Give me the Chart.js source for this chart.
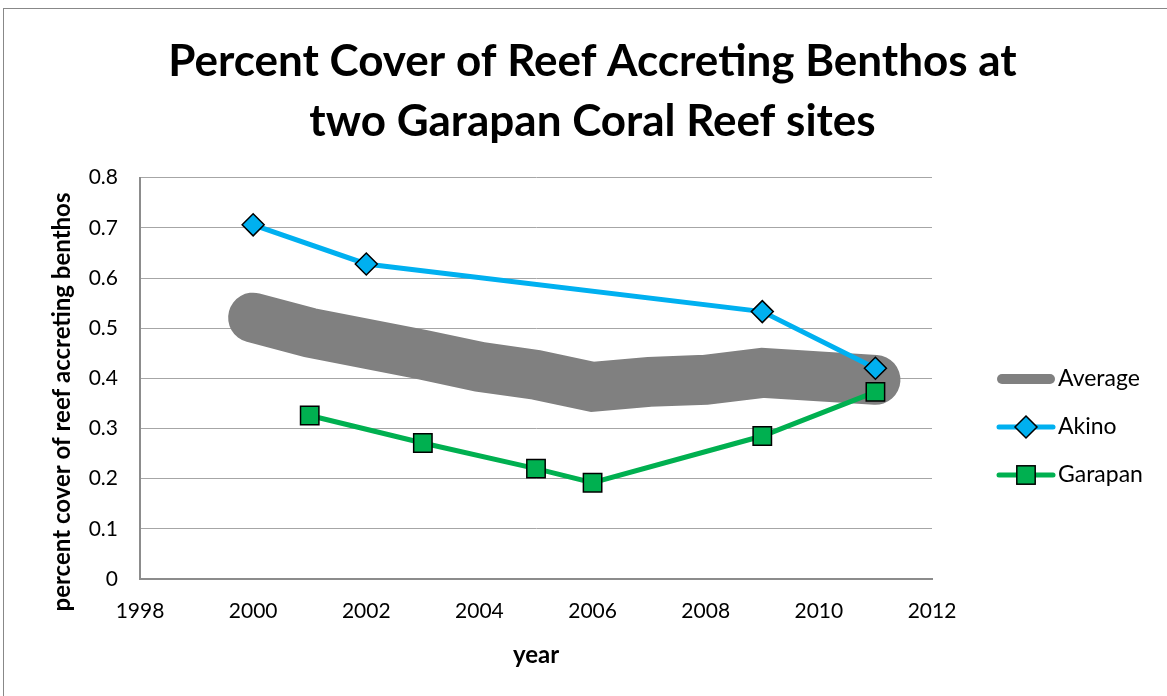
<!DOCTYPE html>
<html>
<head>
<meta charset="utf-8">
<script src="https://cdn.jsdelivr.net/npm/chart.js@4/dist/chart.umd.min.js"></script>
<style>
  html, body { margin: 0; padding: 0; background: #fff; }
  #wrap { width: 1167px; height: 696px; }
</style>
</head>
<body>
<div id="wrap"><canvas id="c" width="1167" height="696"></canvas></div>
<script>
// Chart text
const titleLines = ['Percent Cover of Reef Accreting Benthos at', 'two Garapan Coral Reef sites'];
const xAxisTitle = 'year';
const yAxisTitle = 'percent cover of reef accreting benthos';

// Series
const avgYears = [2000, 2001, 2003, 2004, 2005, 2006, 2007, 2008, 2009, 2011];
const avgValues = [0.521, 0.491, 0.447, 0.423, 0.407, 0.383, 0.393, 0.397, 0.411, 0.397];

const akinoYears = [2000, 2002, 2009, 2011];
const akinoValues = [0.706, 0.628, 0.533, 0.420];

const garapanYears = [2001, 2003, 2005, 2006, 2009, 2011];
const garapanValues = [0.326, 0.271, 0.220, 0.192, 0.285, 0.373];

// Axis ticks
const xTicks = [1998, 2000, 2002, 2004, 2006, 2008, 2010, 2012];
const yTicks = ['0', '0.1', '0.2', '0.3', '0.4', '0.5', '0.6', '0.7', '0.8'];

const FONT = 'Lato, "Open Sans", sans-serif';
const pts = (xs, ys) => xs.map((x, i) => ({ x: x, y: ys[i] }));

// White background and the outer frame
const framePlugin = {
  id: 'frame',
  beforeDraw(chart) {
    const ctx = chart.ctx;
    ctx.save();
    ctx.fillStyle = '#fff';
    ctx.fillRect(0, 0, chart.width, chart.height);
    ctx.strokeStyle = '#888';
    ctx.lineWidth = 1;
    ctx.strokeRect(3.5, 8.5, chart.width + 20, chart.height + 20);
    ctx.restore();
  }
};

// Rotated y-axis title and the legend on the right
const sideTextPlugin = {
  id: 'sideText',
  afterDraw(chart) {
    const ctx = chart.ctx;
    ctx.save();
    ctx.fillStyle = '#000';
    ctx.font = 'bold 24px ' + FONT;
    ctx.textAlign = 'center';
    ctx.textBaseline = 'middle';
    ctx.translate(62, 402);
    ctx.rotate(-Math.PI / 2);
    ctx.fillText(yAxisTitle, 0, 0);
    ctx.restore();

    // legend
    const x0 = 997, x1 = 1055, tx = 1058;
    const rows = [379, 427, 475];
    chart.data.datasets.forEach((ds, i) => {
      const y = rows[i];
      ctx.save();
      ctx.strokeStyle = ds.borderColor;
      ctx.lineCap = 'round';
      ctx.lineWidth = ds.legendLineWidth;
      ctx.beginPath();
      ctx.moveTo(x0 + (ds.legendLineWidth > 6 ? 5 : 2), y);
      ctx.lineTo(x1 - (ds.legendLineWidth > 6 ? 5 : 2), y);
      ctx.stroke();
      const cx = (x0 + x1) / 2;
      if (ds.pointStyle === 'rectRot') {
        const r = ds.pointRadius;
        ctx.beginPath();
        ctx.moveTo(cx, y - r); ctx.lineTo(cx + r, y); ctx.lineTo(cx, y + r); ctx.lineTo(cx - r, y); ctx.closePath();
        ctx.fillStyle = ds.pointBackgroundColor; ctx.fill();
        ctx.lineWidth = ds.pointBorderWidth; ctx.strokeStyle = '#000'; ctx.stroke();
      } else if (ds.pointStyle === 'rect') {
        const h = ds.pointRadius * Math.SQRT1_2;
        ctx.fillStyle = ds.pointBackgroundColor;
        ctx.fillRect(cx - h, y - h, 2 * h, 2 * h);
        ctx.lineWidth = ds.pointBorderWidth; ctx.strokeStyle = '#000';
        ctx.strokeRect(cx - h, y - h, 2 * h, 2 * h);
      }
      ctx.fillStyle = '#000';
      ctx.font = '23px ' + FONT;
      ctx.textAlign = 'left';
      ctx.textBaseline = 'middle';
      ctx.fillText(ds.label, tx, y);
      ctx.restore();
    });
  }
};

new Chart(document.getElementById('c'), {
  type: 'line',
  data: {
    datasets: [
      {
        label: 'Average',
        data: pts(avgYears, avgValues),
        borderColor: '#808080',
        backgroundColor: '#808080',
        borderWidth: 50,
        borderCapStyle: 'round',
        borderJoinStyle: 'miter',
        pointRadius: 0,
        pointStyle: false,
        legendLineWidth: 10,
        order: 3
      },
      {
        label: 'Akino',
        data: pts(akinoYears, akinoValues),
        borderColor: '#00B0F0',
        borderWidth: 5,
        pointStyle: 'rectRot',
        pointRadius: 11,
        pointBackgroundColor: '#00B0F0',
        pointBorderColor: '#000',
        pointBorderWidth: 1.5,
        legendLineWidth: 5,
        order: 2
      },
      {
        label: 'Garapan',
        data: pts(garapanYears, garapanValues),
        borderColor: '#00B050',
        borderWidth: 5,
        pointStyle: 'rect',
        pointRadius: 13,
        pointBackgroundColor: '#00B050',
        pointBorderColor: '#000',
        pointBorderWidth: 1.5,
        legendLineWidth: 5,
        order: 1
      }
    ]
  },
  options: {
    responsive: false,
    animation: false,
    devicePixelRatio: 1,
    layout: { padding: { left: 18, right: 0, top: 0, bottom: 0 } },
    plugins: {
      legend: { display: false },
      tooltip: { enabled: false },
      title: {
        display: true,
        text: titleLines,
        color: '#000',
        font: { family: FONT, size: 44, weight: 'bold', lineHeight: 1.36 },
        padding: { top: 32, bottom: 26 }
      }
    },
    scales: {
      x: {
        type: 'linear',
        min: 1998,
        max: 2012,
        afterBuildTicks(scale) { scale.ticks = xTicks.map(v => ({ value: v })); },
        ticks: {
          color: '#000',
          font: { family: FONT, size: 21 },
          padding: 20,
          maxRotation: 0,
          callback: v => String(v)
        },
        grid: { display: false, drawTicks: false },
        border: { display: true, color: '#8c8c8c', width: 2 },
        title: {
          display: true,
          text: xAxisTitle,
          color: '#000',
          font: { family: FONT, size: 24, weight: 'bold' },
          padding: { top: 0, bottom: 26 }
        },
        afterFit(scale) { scale.height = 696 - 579; }
      },
      y: {
        min: 0,
        max: 0.8,
        afterBuildTicks(scale) { scale.ticks = yTicks.map(t => ({ value: parseFloat(t) })); },
        ticks: {
          color: '#000',
          font: { family: FONT, size: 21 },
          padding: 22,
          callback: (v, i) => yTicks[i]
        },
        grid: { color: '#a6a6a6', lineWidth: 1, drawTicks: false },
        border: { display: true, color: '#8c8c8c', width: 2 },
        afterFit(scale) { scale.width = 140 - 18; }
      },
      yRightSpace: {
        position: 'right',
        display: true,
        ticks: { display: false },
        grid: { display: false, drawTicks: false },
        border: { display: false },
        afterFit(scale) { scale.width = 1167 - 932; }
      }
    }
  },
  plugins: [framePlugin, sideTextPlugin]
});
</script>
</body>
</html>
